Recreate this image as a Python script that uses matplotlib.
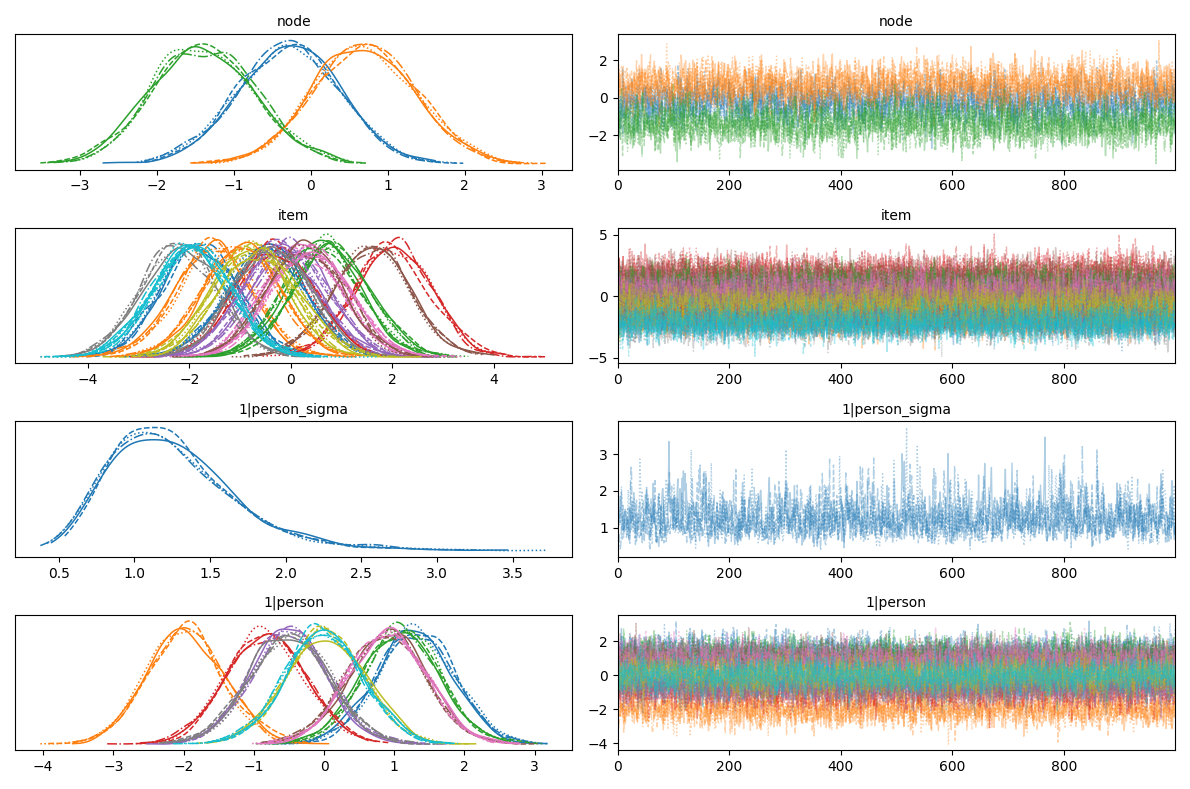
import numpy as np
import matplotlib
matplotlib.use("Agg")
import matplotlib.pyplot as plt

# posterior summaries (per variable: centre, spread)
node_means = [-0.3, 0.7, -1.4]
node_sd = 0.65
item_means = [-1.8, -1.5, 0.6, 2.0, 0.0, 1.6, 0.2, -2.2, -0.8, -2.0,
              -0.5, -1.0, 0.8, -0.3, -0.2, 0.3, 0.4, -0.4, -0.6, -1.9]
item_sd = 0.75
sigma_logmean = 0.18
sigma_logsd = 0.33
person_means = [1.3, -2.0, 1.1, -0.8, -0.5, 0.9, 0.9, -0.5, 0.0, 0.0]
person_sd = 0.55

n_chains = 4
n_draws = 1000
styles = ["-", "--", ":", "-."]
rng = np.random.default_rng(3)


def chains(mean, sd, rho=0.3, log=False):
    out = np.empty((n_chains, n_draws))
    for c in range(n_chains):
        e = rng.normal(size=n_draws)
        x = np.empty(n_draws)
        x[0] = e[0]
        for i in range(1, n_draws):
            x[i] = rho * x[i - 1] + np.sqrt(1 - rho ** 2) * e[i]
        out[c] = mean + sd * x
    return np.exp(out) if log else out


def kde(x):
    grid = np.linspace(x.min(), x.max(), 300)
    bw = 1.06 * x.std() * len(x) ** -0.2
    d = np.exp(-0.5 * ((grid[:, None] - x[None, :]) / bw) ** 2).sum(1)
    return grid, d / (len(x) * bw * np.sqrt(2 * np.pi))


variables = [
    ("node", [chains(m, node_sd) for m in node_means]),
    ("item", [chains(m, item_sd) for m in item_means]),
    ("1|person_sigma", [chains(sigma_logmean, sigma_logsd, 0.5, log=True)]),
    ("1|person", [chains(m, person_sd) for m in person_means]),
]

fig, axes = plt.subplots(4, 2, figsize=(11.9, 7.89), dpi=100)
for row, (name, dims) in enumerate(variables):
    ax_k, ax_t = axes[row]
    for j, samples in enumerate(dims):
        col = f"C{j % 10}"
        for c in range(n_chains):
            g, d = kde(samples[c])
            ax_k.plot(g, d, color=col, ls=styles[c], lw=1.1)
            ax_t.plot(np.arange(n_draws), samples[c], color=col, ls=styles[c],
                      lw=1, alpha=0.35)
    ax_k.set_yticks([])
    ax_k.set_title(name, fontsize=10)
    ax_t.set_title(name, fontsize=10)
    ax_t.set_xlim(0, n_draws - 1)
    ax_t.set_xticks([0, 200, 400, 600, 800])

fig.tight_layout()
fig.savefig("out.png")
